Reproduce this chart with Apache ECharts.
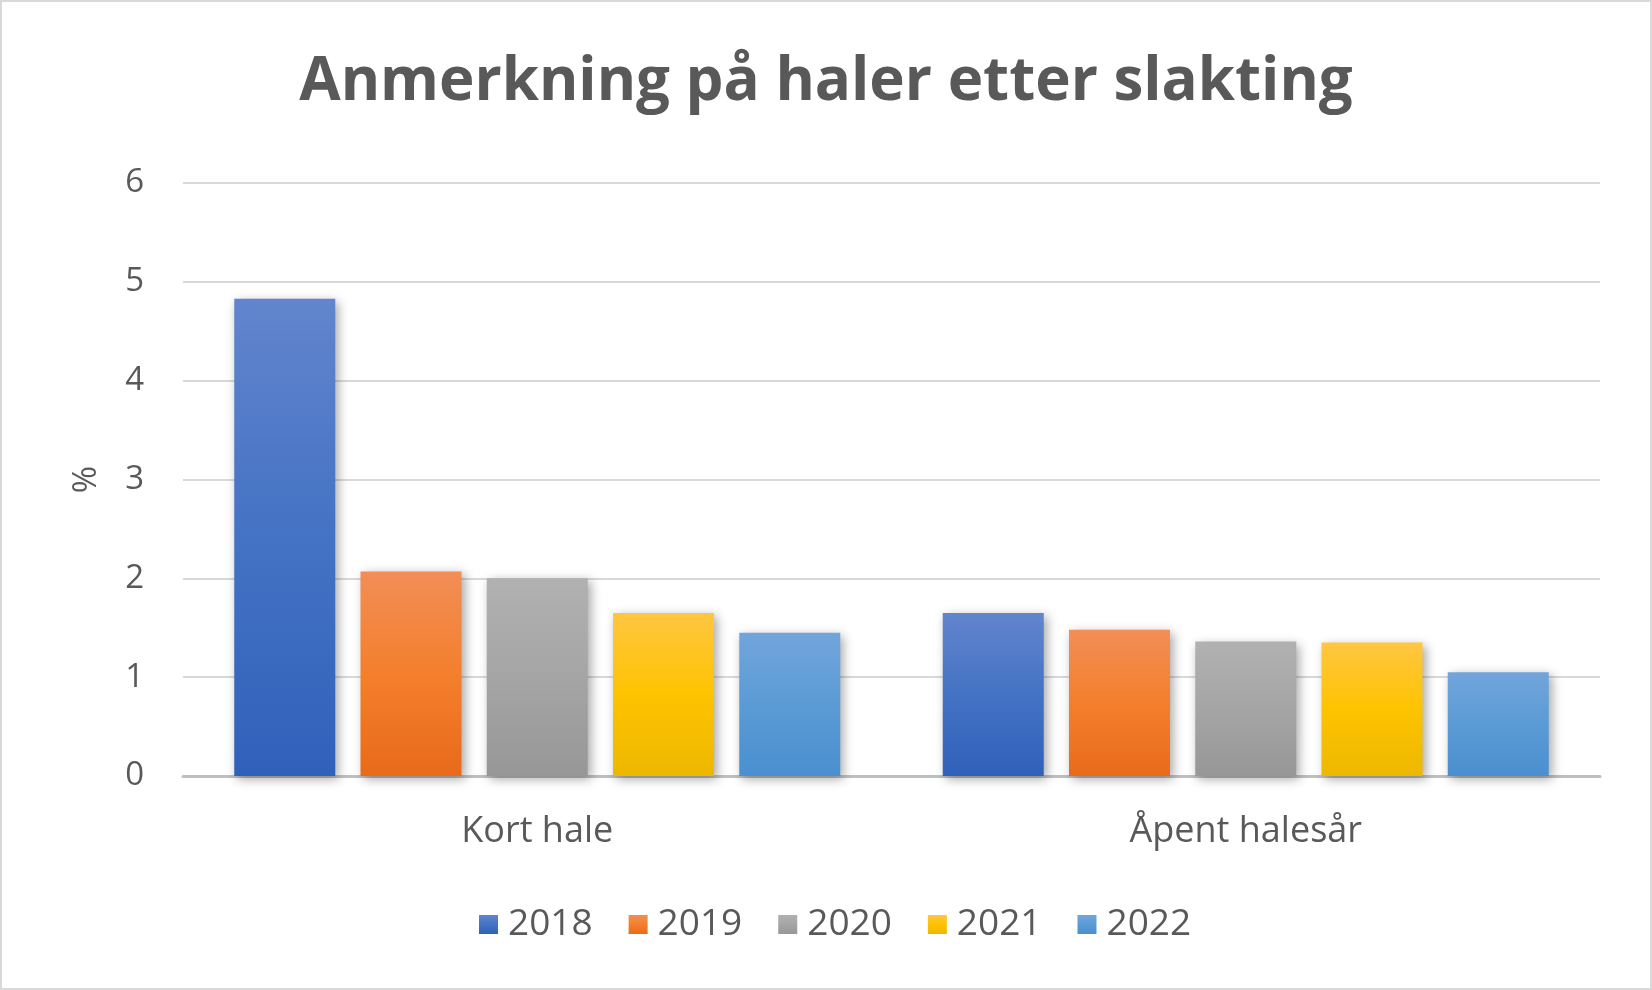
<!DOCTYPE html>
<html>
<head>
<meta charset="utf-8">
<script src="https://cdn.jsdelivr.net/npm/echarts@6/dist/echarts.min.js"></script>
<style>
html,body{margin:0;padding:0;background:#fff;}
#chart{width:1652px;height:990px;box-sizing:border-box;border:2px solid #d9d9d9;}
</style>
</head>
<body>
<div id="chart"></div>
<script>
const categories = ['Kort hale', 'Åpent halesår'];
const years = ['2018', '2019', '2020', '2021', '2022'];
const v2018 = [4.83, 1.65];
const v2019 = [2.07, 1.48];
const v2020 = [2.00, 1.36];
const v2021 = [1.65, 1.35];
const v2022 = [1.45, 1.05];
const yTicks = [0, 1, 2, 3, 4, 5, 6];

const seriesValues = [v2018, v2019, v2020, v2021, v2022];
const gradients = [
  ['#6285cd', '#4472c4', '#3061ba'],
  ['#f28e57', '#f47f2c', '#e86a1a'],
  ['#b1b1b1', '#a5a5a5', '#979797'],
  ['#ffc642', '#fec300', '#ecb800'],
  ['#71a5dc', '#5b9bd5', '#4a8fcf']
];
function grad(c){
  return new echarts.graphic.LinearGradient(0,0,0,1,[
    {offset:0,color:c[0]},{offset:0.5,color:c[1]},{offset:1,color:c[2]}
  ]);
}
const chart = echarts.init(document.getElementById('chart'));
const font = '"Open Sans", "DejaVu Sans", sans-serif';
chart.setOption({
  animation:false,
  backgroundColor:'#fff',
  title:{
    text:'Anmerkning på haler etter slakting',
    left:'center', top:46,
    textStyle:{fontFamily:font,fontWeight:'bold',fontSize:60,color:'#595959'}
  },
  legend:{
    data:years, bottom:45, left:477, padding:0,
    itemWidth:19, itemHeight:19, itemGap:36,
    icon:'rect',
    textStyle:{fontFamily:font,fontSize:37,color:'#595959',padding:[0,0,0,5]}
  },
  grid:{left:181,right:50,top:181,bottom:212},
  xAxis:{
    type:'category', data:categories,
    axisTick:{show:false},
    axisLine:{lineStyle:{color:'#bfbfbf',width:3}},
    axisLabel:{fontFamily:font,fontSize:36,color:'#595959',margin:38}
  },
  yAxis:{
    type:'value', min:yTicks[0], max:yTicks[yTicks.length-1], interval:1,
    name:'%', nameLocation:'middle', nameRotate:90, nameGap:80,
    nameTextStyle:{fontFamily:font,fontSize:33,color:'#595959'},
    axisLine:{show:false}, axisTick:{show:false},
    axisLabel:{fontFamily:font,fontSize:33,color:'#595959',margin:39},
    splitLine:{lineStyle:{color:'#d9d9d9',width:2}}
  },
  series: years.map((y,i)=>({
    name:y, type:'bar', data:seriesValues[i],
    barWidth:101, barGap:'25%',
    itemStyle:{
      color:grad(gradients[i]),
      shadowBlur:10, shadowOffsetX:3, shadowOffsetY:3, shadowColor:'rgba(0,0,0,0.35)'
    }
  }))
});
</script>
</body>
</html>
